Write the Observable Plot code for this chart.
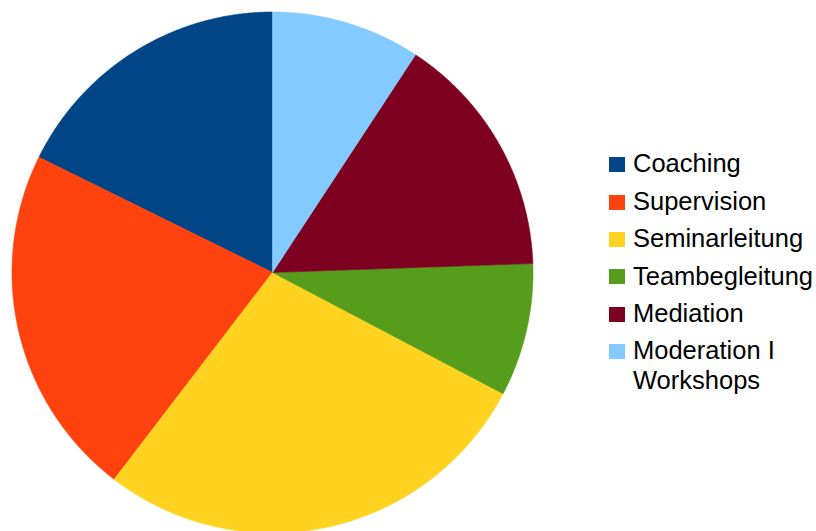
<!DOCTYPE html>
<html>
<head>
<meta charset="utf-8">
<script src="https://cdn.jsdelivr.net/npm/d3@7"></script>
<script src="https://cdn.jsdelivr.net/npm/@observablehq/plot@0.6"></script>
<style>
  html, body { margin: 0; padding: 0; background: #fff; }
  #wrap { position: relative; width: 816px; height: 531px; overflow: hidden; }
  #legend { position: absolute; left: 608.5px; top: 148.4px; font-family: "Liberation Sans", Arial, sans-serif; font-size: 25.5px; line-height: 30px; color: #000; }
  .item { display: flex; align-items: flex-start; margin-bottom: 7.4px; }
  .sw { width: 16px; height: 15px; margin-top: 8.8px; margin-right: 8.5px; flex: none; }
  .lab { max-width: 186px; }
</style>
</head>
<body>
<div id="wrap"></div>
<script>
const categories = ["Coaching", "Supervision", "Seminarleitung", "Teambegleitung", "Mediation", "Moderation I Workshops"];
const values = [17.7, 21.9, 27.7, 8.25, 15.2, 9.25];
const colors = ["#004586", "#ff420e", "#ffd320", "#579d1c", "#7e0021", "#83caff"];

const table = categories.map((c, i) => ({category: c, value: values[i]}));

// counterclockwise from 12 o'clock
const arcs = d3.pie().value(d => d.value).sort(null).startAngle(0).endAngle(-2 * Math.PI)(table);

const pts = [];
for (const a of arcs) {
  const c = a.data.category;
  pts.push({category: c, x: 0, y: 0});
  const n = Math.max(2, Math.ceil(Math.abs(a.endAngle - a.startAngle) / (Math.PI / 720)));
  for (let k = 0; k <= n; k++) {
    const t = a.startAngle + (a.endAngle - a.startAngle) * k / n;
    pts.push({category: c, x: Math.sin(t), y: Math.cos(t)});
  }
  pts.push({category: c, x: 0, y: 0});
}

const cx = 272, cy = 272, r = 260.5;
const chart = Plot.plot({
  width: 816,
  height: 531,
  margin: 0,
  x: {domain: [-1, 1], range: [cx - r, cx + r], axis: null},
  y: {domain: [-1, 1], range: [cy + r, cy - r], axis: null},
  color: {domain: categories, range: colors},
  marks: [
    Plot.line(pts, {x: "x", y: "y", z: "category", fill: "category", stroke: "category", strokeWidth: 0.6, curve: "linear"})
  ]
});

const wrap = document.getElementById("wrap");
wrap.appendChild(chart);

const legend = document.createElement("div");
legend.id = "legend";
categories.forEach((c, i) => {
  const item = document.createElement("div");
  item.className = "item";
  const sw = document.createElement("div");
  sw.className = "sw";
  sw.style.background = colors[i];
  const lab = document.createElement("div");
  lab.className = "lab";
  lab.textContent = c;
  item.appendChild(sw);
  item.appendChild(lab);
  legend.appendChild(item);
});
wrap.appendChild(legend);
</script>
</body>
</html>
